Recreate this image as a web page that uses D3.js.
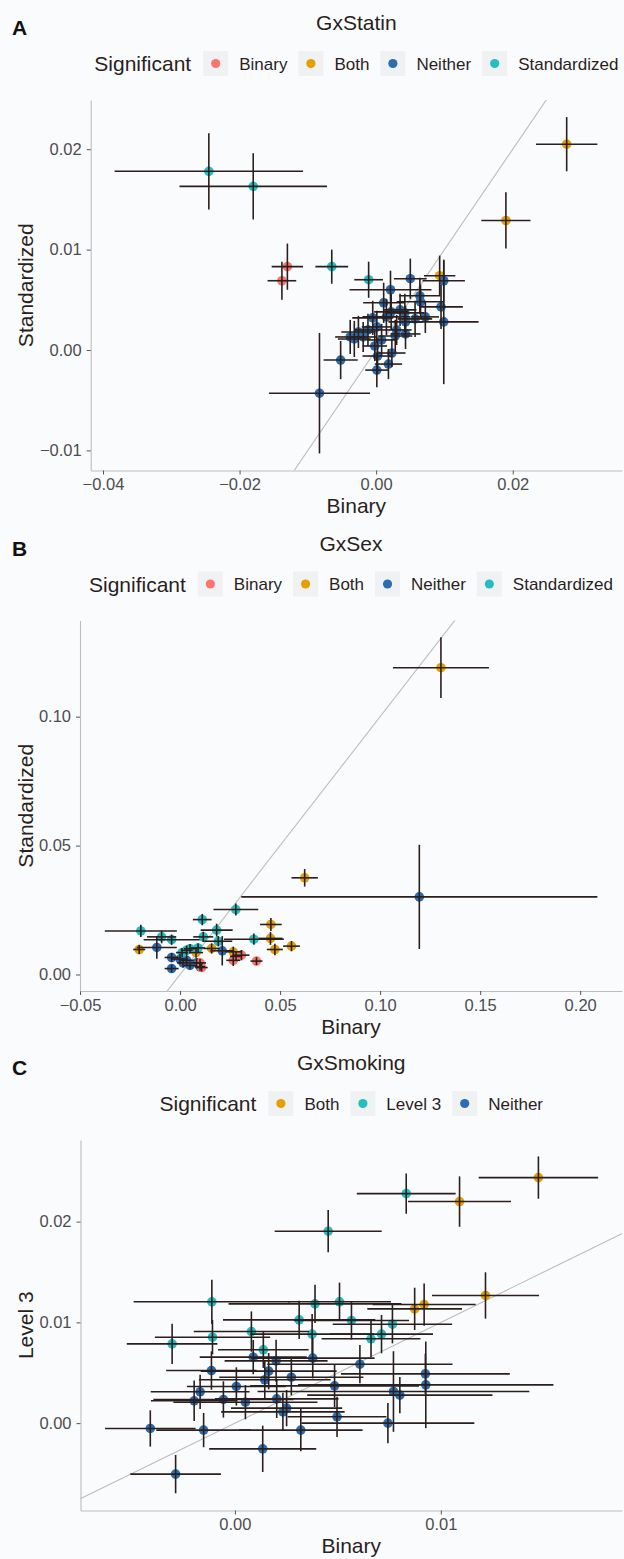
<!DOCTYPE html>
<html>
<head>
<meta charset="utf-8">
<script src="https://cdn.jsdelivr.net/npm/d3@7"></script>
<style>
body { margin: 0; background: #fafbfd; }
text { font-family: "Liberation Sans", Arial, sans-serif; }
</style>
</head>
<body>
<svg id="chart"></svg>
<script>
// ---- GxStatin (panel A) ----
const statinBinary   = [-0.0245,-0.0180,-0.0065,-0.0011,-0.0130,-0.0138,0.0279,0.0190,0.0093,-0.0083,-0.0052,0.0050,0.0099,0.0021,0.0064,0.0011,0.0065,0.0095,0.0022,0.0042,-0.0005,0.0015,0.0072,0.0057,0.0099,0.0001,0.0043,-0.0026,-0.0038,-0.0032,-0.0019,0.0028,0.0043,-0.0002,0.0023,0.0002,0.0018,0.0001,0.0030,0.0008,0.0035,-0.0012];
const statinBinarySe = [0.0138,0.0108,0.0024,0.0021,0.0023,0.0021,0.0045,0.0036,0.0023,0.0074,0.0025,0.0024,0.0031,0.0060,0.0030,0.0030,0.0035,0.0032,0.0025,0.0028,0.0030,0.0035,0.0020,0.0025,0.0051,0.0022,0.0025,0.0025,0.0022,0.0024,0.0020,0.0025,0.0022,0.0018,0.0020,0.0022,0.0020,0.0017,0.0022,0.0022,0.0024,0.0020];
const statinStd      = [0.0178,0.0163,0.0083,0.0070,0.0083,0.0069,0.0205,0.0129,0.0074,-0.0043,-0.0010,0.0071,0.0069,0.0060,0.0054,0.0047,0.0048,0.0043,0.0038,0.0037,0.0032,0.0033,0.0033,0.0031,0.0028,0.0023,0.0028,0.0018,0.0013,0.0011,0.0013,0.0014,0.0016,0.0004,-0.0003,-0.0006,-0.0014,-0.0020,0.0020,0.0010,0.0040,0.0020];
const statinStdSe    = [0.0038,0.0033,0.0017,0.0018,0.0023,0.0019,0.0027,0.0028,0.0020,0.0060,0.0019,0.0020,0.0020,0.0019,0.0018,0.0020,0.0017,0.0022,0.0018,0.0019,0.0017,0.0018,0.0016,0.0018,0.0062,0.0016,0.0016,0.0016,0.0017,0.0018,0.0015,0.0016,0.0015,0.0015,0.0014,0.0018,0.0015,0.0017,0.0015,0.0016,0.0016,0.0016];
const statinSig      = ["Standardized","Standardized","Standardized","Standardized","Binary","Binary","Both","Both","Both",
  "Neither","Neither","Neither","Neither","Neither","Neither","Neither","Neither","Neither","Neither","Neither","Neither","Neither","Neither","Neither","Neither","Neither","Neither","Neither","Neither","Neither","Neither","Neither","Neither","Neither","Neither","Neither","Neither","Neither","Neither","Neither","Neither","Neither"];
const statinGroups = ["Binary","Both","Neither","Standardized"];
const statinXTicks = [-0.04,-0.02,0,0.02];
const statinYTicks = [-0.01,0,0.01,0.02];

// ---- GxSex (panel B) ----
const sexBinary   = [0.1304,0.0623,0.0454,0.0452,0.0557,0.0474,-0.0204,0.0158,0.0266,0.0080,
  0.1196,-0.0116,0.0211,-0.0042,-0.0042,0.0000,0.0033,0.0083,0.0050,0.0100,0.0015,
  0.0279,0.0111,0.0183,0.0369,-0.0196,-0.0092,-0.0042,0.0116,0.0191,0.0033,0.0050,0.0090,0.0010,
  0.0307,0.0266,0.0382,0.0108,0.0100,0.0280];
const sexBinarySe = [0.0240,0.0066,0.0054,0.0060,0.0042,0.0040,0.0030,0.0040,0.0040,0.0035,
  0.0890,0.0100,0.0060,0.0035,0.0035,0.0040,0.0035,0.0030,0.0030,0.0025,0.0030,
  0.0112,0.0047,0.0080,0.0150,0.0180,0.0073,0.0140,0.0050,0.0070,0.0030,0.0030,0.0035,0.0030,
  0.0040,0.0035,0.0030,0.0030,0.0030,0.0030];
const sexStd      = [0.1190,0.0375,0.0194,0.0140,0.0110,0.0097,0.0097,0.0101,0.0088,0.0085,
  0.0301,0.0105,0.0092,0.0066,0.0023,0.0060,0.0055,0.0045,0.0035,0.0030,0.0045,
  0.0252,0.0213,0.0172,0.0137,0.0169,0.0146,0.0135,0.0146,0.0129,0.0094,0.0100,0.0103,0.0085,
  0.0075,0.0055,0.0052,0.0027,0.0045,0.0070];
const sexStdSe    = [0.0118,0.0034,0.0025,0.0025,0.0020,0.0022,0.0018,0.0020,0.0020,0.0020,
  0.0202,0.0044,0.0057,0.0018,0.0015,0.0020,0.0020,0.0018,0.0015,0.0015,0.0018,
  0.0023,0.0022,0.0025,0.0022,0.0024,0.0025,0.0020,0.0020,0.0020,0.0018,0.0018,0.0018,0.0018,
  0.0020,0.0022,0.0015,0.0015,0.0015,0.0018];
const sexSig = ["Both","Both","Both","Both","Both","Both","Both","Both","Both","Both",
  "Neither","Neither","Neither","Neither","Neither","Neither","Neither","Neither","Neither","Neither","Neither",
  "Standardized","Standardized","Standardized","Standardized","Standardized","Standardized","Standardized","Standardized","Standardized","Standardized","Standardized","Standardized","Standardized",
  "Binary","Binary","Binary","Binary","Binary","Binary"];
const sexGroups = ["Binary","Both","Neither","Standardized"];
const sexXTicks = [-0.05,0,0.05,0.10,0.15,0.20];
const sexYTicks = [0,0.05,0.10];

// ---- GxSmoking (panel C) ----
const smokingBinary   = [0.01474,0.01091,0.01217,0.00919,0.00873,
  0.00832,0.00453,-0.00112,0.00389,0.00508,0.00312,0.00566,0.00765,0.00712,0.00661,0.00080,0.00375,-0.00109,-0.00305,0.00138,
  0.00089,0.00378,0.00200,0.00164,-0.00114,0.00607,0.00925,0.00927,0.00274,0.00145,0.00007,0.00484,-0.00169,0.00770,0.00801,-0.00056,-0.00198,0.00051,0.00203,0.00251,0.00233,0.00496,0.00743,-0.00411,-0.00152,0.00320,0.00135,-0.00288];
const smokingBinarySe = [0.0029,0.0025,0.0026,0.0025,0.0023,
  0.0024,0.0026,0.0038,0.0042,0.0025,0.0037,0.0028,0.0029,0.0025,0.0024,0.0028,0.0030,0.0028,0.0022,0.0022,
  0.0026,0.0030,0.0025,0.0033,0.0022,0.0045,0.0041,0.0062,0.0035,0.0032,0.0024,0.0041,0.0024,0.0066,0.0045,0.0034,0.0021,0.0035,0.0030,0.0027,0.0030,0.0024,0.0042,0.0022,0.0023,0.0030,0.0026,0.0022];
const smokingLevel3   = [0.02437,0.02199,0.01267,0.01177,0.01134,
  0.02278,0.01905,0.01204,0.01184,0.01204,0.01025,0.01019,0.00982,0.00883,0.00837,0.00909,0.00883,0.00853,0.00787,0.00728,
  0.00655,0.00645,0.00618,0.00516,0.00522,0.00585,0.00489,0.00380,0.00456,0.00430,0.00364,0.00370,0.00311,0.00314,0.00278,0.00235,0.00222,0.00208,0.00241,0.00149,0.00112,0.00063,0.00000,-0.00053,-0.00069,-0.00069,-0.00255,-0.00506];
const smokingLevel3Se = [0.0021,0.0025,0.0023,0.0021,0.0021,
  0.0020,0.0021,0.0022,0.0019,0.0019,0.0019,0.0019,0.0019,0.0019,0.0018,0.0020,0.0020,0.0017,0.0020,0.0018,
  0.0017,0.0020,0.0021,0.0018,0.0019,0.0019,0.0020,0.0043,0.0018,0.0019,0.0019,0.0021,0.0017,0.0040,0.0018,0.0018,0.0020,0.0017,0.0019,0.0018,0.0019,0.0020,0.0020,0.0018,0.0017,0.0021,0.0023,0.0019];
const smokingSig = ["Both","Both","Both","Both","Both",
  "Level 3","Level 3","Level 3","Level 3","Level 3","Level 3","Level 3","Level 3","Level 3","Level 3","Level 3","Level 3","Level 3","Level 3","Level 3",
  "Neither","Neither","Neither","Neither","Neither","Neither","Neither","Neither","Neither","Neither","Neither","Neither","Neither","Neither","Neither","Neither","Neither","Neither","Neither","Neither","Neither","Neither","Neither","Neither","Neither","Neither","Neither","Neither"];
const smokingGroups = ["Both","Level 3","Neither"];
const smokingXTicks = [0,0.01];
const smokingYTicks = [0,0.01,0.02];

const colors = {"Binary":"#F8766D","Both":"#E69F00","Neither":"#2C6CB0","Standardized":"#25BEC0","Level 3":"#25BEC0"};
const ink = "#2a1f1d";

const svg = d3.select("#chart").attr("width",624).attr("height",1559);

function rows(xs, xse, ys, yse, sig) {
	return xs.map((x,i) => ({x:x, xe:xse[i], y:ys[i], ye:yse[i], sig:sig[i]}));
}

function drawPanel(p) {
	const g = svg.append("g").attr("transform", `translate(0, ${p.offset})`);
	const top = 100, bottom = 470.5;

	const x = d3.scaleLinear().domain(p.xDomain).range([p.left, 622]);
	const y = d3.scaleLinear().domain(p.yDomain).range([bottom, top]);

	// tag + title
	g.append("text").attr("x",12).attr("y",35).attr("font-size",21).attr("font-weight","bold")
		.attr("fill","#111").text(p.tag);
	g.append("text").attr("x",(p.left+622)/2).attr("y",30).attr("text-anchor","middle")
		.attr("font-size",21).attr("fill",ink).text(p.title);

	// legend
	const lg = g.append("g");
	const cy = 63.5;
	const lt = lg.append("text").attr("x",0).attr("y",cy+7.5).attr("font-size",21).attr("fill",ink).text("Significant");
	let lx = lt.node().getComputedTextLength() + 12;
	p.groups.forEach(k => {
		lg.append("rect").attr("x",lx).attr("y",cy-12.5).attr("width",25).attr("height",25).attr("fill","#f0f1f2");
		lg.append("circle").attr("cx",lx+12.5).attr("cy",cy).attr("r",4.6).attr("fill",colors[k]);
		const t = lg.append("text").attr("x",lx+36).attr("y",cy+6).attr("font-size",17).attr("fill",ink).text(k);
		lx += 36 + t.node().getComputedTextLength() + 11;
	});
	lg.attr("transform", `translate(${(p.left+622)/2 - (lx-11)/2}, 0)`);

	// axes
	const xAxis = d3.axisBottom(x).tickValues(p.xTicks).tickFormat(d3.format(".2f")).tickSize(4).tickSizeOuter(0).tickPadding(4);
	const yAxis = d3.axisLeft(y).tickValues(p.yTicks).tickFormat(d3.format(".2f")).tickSize(4).tickSizeOuter(0).tickPadding(5);
	const gx = g.append("g").attr("transform",`translate(0,${bottom})`).call(xAxis);
	const gy = g.append("g").attr("transform",`translate(${p.left},0)`).call(yAxis);
	[gx, gy].forEach(a => {
		a.select(".domain").attr("stroke","#bdbdbd").attr("stroke-width",1.1);
		a.selectAll(".tick line").attr("stroke","#555");
		a.selectAll(".tick text").attr("fill","#4d4d4d").attr("font-size",16.5)
			.style("font-family","'Liberation Sans', Arial, sans-serif");
	});

	g.append("text").attr("x",(p.left+622)/2).attr("y",513).attr("text-anchor","middle")
		.attr("font-size",21).attr("fill",ink).text("Binary");
	g.append("text").attr("transform",`translate(32.5,${(top+bottom)/2}) rotate(-90)`).attr("text-anchor","middle")
		.attr("font-size",21).attr("fill",ink).text(p.yTitle);

	// clip for the identity line
	const clipId = "clip" + p.tag;
	g.append("clipPath").attr("id",clipId).append("rect")
		.attr("x",p.left).attr("y",top).attr("width",622-p.left).attr("height",bottom-top);
	const lo = Math.min(p.xDomain[0], p.yDomain[0]), hi = Math.max(p.xDomain[1], p.yDomain[1]);
	g.append("line").attr("clip-path",`url(#${clipId})`)
		.attr("x1",x(lo)).attr("y1",y(lo)).attr("x2",x(hi)).attr("y2",y(hi))
		.attr("stroke","#bdbdbd").attr("stroke-width",1.1);

	// points
	g.selectAll("circle.pt")
		.data(p.data)
		.enter()
		.append("circle")
		.attr("class","pt")
		.attr("cx",d=>x(d.x))
		.attr("cy",d=>y(d.y))
		.attr("r",4.8)
		.attr("fill",d=>colors[d.sig]);

	// error bars on top
	g.selectAll("line.xe")
		.data(p.data)
		.enter()
		.append("line")
		.attr("x1",d=>x(d.x-d.xe)).attr("x2",d=>x(d.x+d.xe))
		.attr("y1",d=>y(d.y)).attr("y2",d=>y(d.y))
		.attr("stroke",ink).attr("stroke-width",1.6);
	g.selectAll("line.ye")
		.data(p.data)
		.enter()
		.append("line")
		.attr("x1",d=>x(d.x)).attr("x2",d=>x(d.x))
		.attr("y1",d=>y(d.y-d.ye)).attr("y2",d=>y(d.y+d.ye))
		.attr("stroke",ink).attr("stroke-width",1.6);
}

drawPanel({tag:"A", title:"GxStatin", yTitle:"Standardized", offset:0, left:90.7,
	xDomain:[-0.0418,0.0360], yDomain:[-0.0120,0.0249], xTicks:statinXTicks, yTicks:statinYTicks,
	groups:statinGroups, data:rows(statinBinary,statinBinarySe,statinStd,statinStdSe,statinSig)});

drawPanel({tag:"B", title:"GxSex", yTitle:"Standardized", offset:520.5, left:80,
	xDomain:[-0.05,0.2209], yDomain:[-0.0064,0.1373], xTicks:sexXTicks, yTicks:sexYTicks,
	groups:sexGroups, data:rows(sexBinary,sexBinarySe,sexStd,sexStdSe,sexSig)});

drawPanel({tag:"C", title:"GxSmoking", yTitle:"Level 3", offset:1040, left:80.5,
	xDomain:[-0.0075,0.0188], yDomain:[-0.00867,0.0281], xTicks:smokingXTicks, yTicks:smokingYTicks,
	groups:smokingGroups, data:rows(smokingBinary,smokingBinarySe,smokingLevel3,smokingLevel3Se,smokingSig)});
</script>
</body>
</html>
